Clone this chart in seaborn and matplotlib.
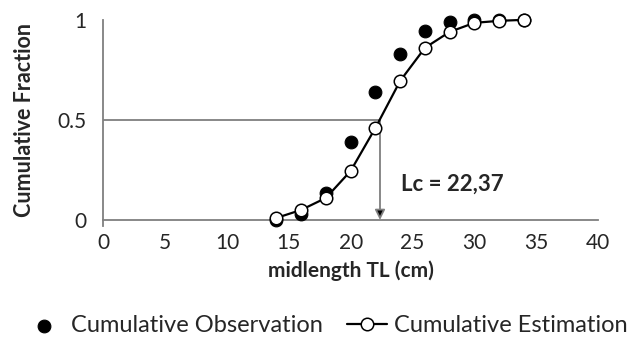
import matplotlib
matplotlib.use("Agg")
import matplotlib.pyplot as plt
import seaborn as sns

# midlength classes (cm)
midlength = [14, 16, 18, 20, 22, 24, 26, 28, 30, 32, 34]
cum_observation = [0.0, 0.03, 0.135, 0.39, 0.64, 0.83, 0.945, 0.99, 1.0, 1.0, 1.0]
cum_estimation = [0.01, 0.05, 0.11, 0.245, 0.46, 0.695, 0.86, 0.94, 0.985, 0.995, 1.0]
lc = 22.37
x_ticks = [0, 5, 10, 15, 20, 25, 30, 35, 40]
y_ticks = [0, 0.5, 1]
y_tick_labels = ["0", "0.5", "1"]

sns.set_style("white")
plt.rcParams['font.family'] = ['Lato', 'DejaVu Sans']

fig = plt.figure(figsize=(6.29, 3.48), dpi=100)
ax = fig.add_axes([0.164, 0.368, 0.787, 0.575])

grey = "#7f7f7f"
txt = "#262626"

# Lc guide lines
ax.plot([0, lc], [0.5, 0.5], color=grey, lw=1.3, zorder=1)
ax.annotate("", xy=(lc, 0.0), xytext=(lc, 0.5),
            arrowprops=dict(arrowstyle="-|>", lw=1.3, mutation_scale=15,
                            shrinkA=0, shrinkB=0,
                            edgecolor=grey, facecolor="black"))
ax.text(24.1, 0.18, "Lc = 22,37", fontsize=16, fontweight="bold",
        color=txt, ha="left", va="center")

sns.scatterplot(x=midlength, y=cum_observation, ax=ax, color="black", s=85,
                edgecolor="black", zorder=3, clip_on=False,
                label="Cumulative Observation")
sns.lineplot(x=midlength, y=cum_estimation, ax=ax, color="black", lw=1.6,
             marker="o", markersize=9, markerfacecolor="white",
             markeredgecolor="black", markeredgewidth=1.1, zorder=4,
             clip_on=False, label="Cumulative Estimation")

ax.set_xlim(0, 40)
ax.set_ylim(0, 1)
ax.set_xticks(x_ticks)
ax.set_yticks(y_ticks)
ax.set_yticklabels(y_tick_labels)
ax.tick_params(axis="both", labelsize=15, labelcolor=txt, direction="inout",
               length=9, width=1.2, color=grey, pad=5)
ax.tick_params(axis="y", direction="out", length=6, pad=6)

for side in ["top", "right"]:
    ax.spines[side].set_visible(False)
for side in ["left", "bottom"]:
    ax.spines[side].set_color(grey)
    ax.spines[side].set_linewidth(1.3)
ax.spines["left"].set_bounds(-0.03, 1)

ax.set_xlabel("midlength TL (cm)", fontsize=15, fontweight="bold", color=txt, labelpad=5)
ax.set_ylabel("Cumulative Fraction", fontsize=15.5, fontweight="bold", color=txt, labelpad=16)

ax.legend(loc="upper center", bbox_to_anchor=(0.45, -0.43), ncol=2, frameon=False,
          fontsize=17, handlelength=1.7, columnspacing=1.0, handletextpad=0.3,
          borderaxespad=0, labelcolor=txt)

fig.savefig("out.png", dpi=100)
